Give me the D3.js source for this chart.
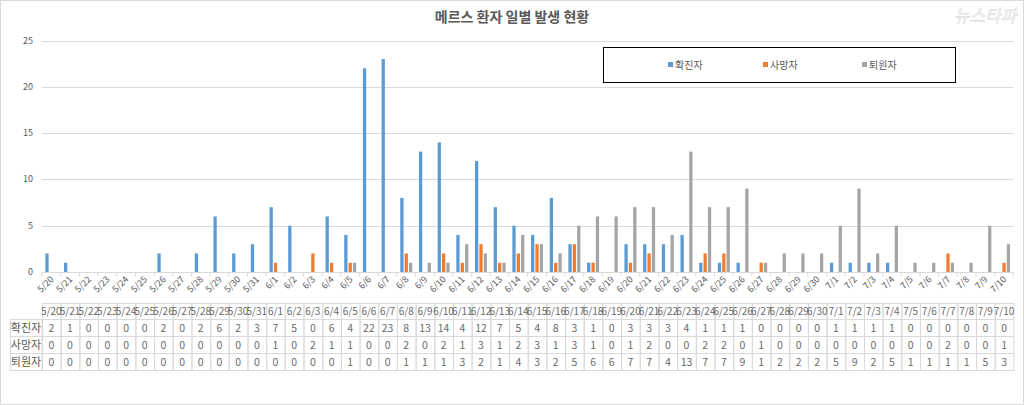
<!DOCTYPE html>
<html><head><meta charset="utf-8">
<script src="https://cdn.jsdelivr.net/npm/d3@7"></script>
<style>body{margin:0;background:#fff}svg{display:block;font-family:"Noto Sans CJK KR","Noto Sans",sans-serif}</style>
</head><body><svg id="c" width="1024" height="405"></svg>
<script>
const dates = ["5/20","5/21","5/22","5/23","5/24","5/25","5/26","5/27","5/28","5/29","5/30","5/31",
"6/1","6/2","6/3","6/4","6/5","6/6","6/7","6/8","6/9","6/10","6/11","6/12","6/13","6/14","6/15","6/16","6/17","6/18","6/19","6/20","6/21","6/22","6/23","6/24","6/25","6/26","6/27","6/28","6/29","6/30",
"7/1","7/2","7/3","7/4","7/5","7/6","7/7","7/8","7/9","7/10"];
const confirmed = [2,1,0,0,0,0,2,0,2,6,2,3,7,5,0,6,4,22,23,8,13,14,4,12,7,5,4,8,3,1,0,3,3,3,4,1,1,1,0,0,0,0,1,1,1,1,0,0,0,0,0,0];
const deaths = [0,0,0,0,0,0,0,0,0,0,0,0,1,0,2,1,1,0,0,2,0,2,1,3,1,2,3,1,3,1,0,1,2,0,0,2,2,0,1,0,0,0,0,0,0,0,0,0,2,0,0,1];
const discharged = [0,0,0,0,0,0,0,0,0,0,0,0,0,0,0,0,1,0,0,1,1,1,3,2,1,4,3,2,5,6,6,7,7,4,13,7,7,9,1,2,2,2,5,9,2,5,1,1,1,1,5,3];
const seriesNames = ["확진자","사망자","퇴원자"];
const yTicks = [0,5,10,15,20,25];
const title = "메르스 환자 일별 발생 현황";

const colors = ["#5B9BD5","#ED7D31","#A5A5A5"];
const series = [confirmed, deaths, discharged];
const svg = d3.select("#c");
const txt = "#595959";
const txt2 = "#6a6a6a";

svg.append("rect").attr("x",0.5).attr("y",0.5).attr("width",1023).attr("height",404)
  .attr("fill","none").attr("stroke","#d9d9d9");

svg.append("text").attr("x",512).attr("y",22).attr("text-anchor","middle")
  .attr("font-size",14).attr("font-weight","bold").attr("fill",txt).text(title);

// watermark
svg.append("text").attr("x",985).attr("y",22).attr("text-anchor","middle")
  .attr("font-size",17).attr("fill","none").attr("stroke","#e3e3e3").attr("stroke-width",0.8)
  .attr("font-style","italic").text("뉴스타파");

const x = d3.scaleBand().domain(dates).range([42, 1013.4]).padding(0);
const y = d3.scaleLinear().domain([0,25]).range([272, 40.5]);
const x1 = d3.scaleBand().domain([0,1,2]).range([-6,6]).paddingInner(0.25);

svg.append("g").selectAll("line").data(yTicks.filter(d=>d>0)).join("line")
  .attr("x1",42).attr("x2",1013.4).attr("y1",d=>Math.round(y(d))+0.5).attr("y2",d=>Math.round(y(d))+0.5)
  .attr("stroke","#d9d9d9");

svg.append("g").selectAll("text").data(yTicks).join("text")
  .attr("x",33).attr("y",d=>y(d)+3).attr("text-anchor","end")
  .attr("font-size",9).attr("fill",txt).text(d=>d);

series.forEach((vals,si)=>{
  svg.append("g").selectAll("rect").data(vals).join("rect")
    .attr("x",(d,i)=>x(dates[i])+x.bandwidth()/2+x1(si))
    .attr("width",x1.bandwidth())
    .attr("y",d=>y(d)).attr("height",d=>y(0)-y(d))
    .attr("fill",colors[si]);
});

const base = Math.round(y(0))+0.5;
svg.append("line").attr("x1",42).attr("x2",1013.4).attr("y1",base).attr("y2",base).attr("stroke","#d9d9d9");
svg.append("g").selectAll("line").data(dates.concat(["end"])).join("line")
  .attr("x1",(d,i)=>42+i*x.bandwidth()).attr("x2",(d,i)=>42+i*x.bandwidth())
  .attr("y1",base).attr("y2",base+4).attr("stroke","#d9d9d9");

svg.append("g").selectAll("text").data(dates).join("text")
  .attr("transform",d=>`translate(${x(d)+x.bandwidth()/2+3},${280}) rotate(-45)`)
  .attr("text-anchor","end").attr("font-size",9).attr("fill",txt).text(d=>d);

svg.append("rect").attr("x",603.5).attr("y",47.5).attr("width",352).attr("height",35)
  .attr("fill","#fff").attr("stroke","#000").attr("stroke-width",1);
const legX = [668,763,862];
seriesNames.forEach((n,i)=>{
  svg.append("rect").attr("x",legX[i]).attr("y",62).attr("width",5).attr("height",5).attr("fill",colors[i]);
  svg.append("text").attr("x",legX[i]+7).attr("y",68.5).attr("font-size",10).attr("fill",txt).text(n);
});

const tTop = 303, hH = 16, rH = 17;
const tg = svg.append("g");
const bw = x.bandwidth();
dates.forEach((d,i)=>{
  tg.append("rect").attr("x",42+i*bw+0.5).attr("y",tTop+0.5).attr("width",bw).attr("height",hH)
    .attr("fill","none").attr("stroke","#d9d9d9");
});
tg.selectAll("text.h").data(dates).join("text").attr("class","h")
  .attr("x",d=>x(d)+bw/2).attr("y",tTop+12).attr("text-anchor","middle")
  .attr("font-size",10).attr("fill",txt2).text(d=>d);
series.forEach((vals,si)=>{
  const ry = tTop+hH+si*rH;
  tg.append("rect").attr("x",10.5).attr("y",ry+0.5).attr("width",31.5).attr("height",rH)
    .attr("fill","none").attr("stroke","#d9d9d9");
  tg.append("text").attr("x",26).attr("y",ry+13).attr("text-anchor","middle")
    .attr("font-size",11).attr("fill",txt).text(seriesNames[si]);
  vals.forEach((v,i)=>{
    tg.append("rect").attr("x",42+i*bw+0.5).attr("y",ry+0.5).attr("width",bw).attr("height",rH)
      .attr("fill","none").attr("stroke","#d9d9d9");
  });
  tg.append("g").selectAll("text").data(vals).join("text")
    .attr("x",(d,i)=>x(dates[i])+bw/2).attr("y",ry+13).attr("text-anchor","middle")
    .attr("font-size",10.5).attr("fill",txt2).text(d=>d);
});
</script></body></html>
